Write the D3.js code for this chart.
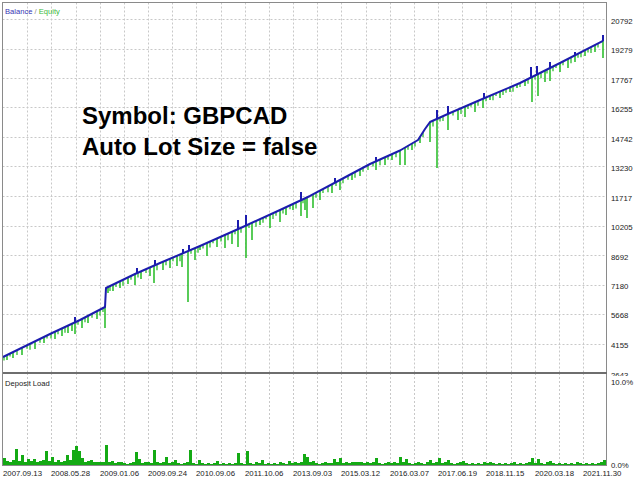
<!DOCTYPE html>
<html><head><meta charset="utf-8">
<script src="https://cdn.jsdelivr.net/npm/d3@7"></script>
<style>body{margin:0;background:#fff}svg{display:block}text{font-family:"Liberation Sans",Arial,sans-serif}</style>
</head><body><svg id="c" width="640" height="480"></svg>
<script>
// ---- data (x axis = trade number) ----
const balanceTrades = [0,47,77,102,103,132,157,197,242,277,307,337,367,397,415,422,427,447,477,517,557,600];
const balanceValues = [3463,4643,5360,6027,7001,7719,8283,9154,10180,11000,11718,12538,13358,14050,14589,15153,15512,15973,16640,17511,18537,19665];

const equityDipTrades = [4,10,19,32,41,52,59,65,69,72,79,85,94,102,105,110,117,125,132,138,147,151,160,167,174,179,185,192,197,204,214,222,229,235,243,249,257,267,277,283,290,298,302,304,310,317,329,337,349,357,373,382,389,397,402,409,417,427,434,445,455,462,472,480,487,497,507,514,522,529,535,542,547,557,565,572,582,592,600];
const equityDipValues = [3310,3412,3566,3874,4181,4386,4540,4694,4796,4643,4950,5207,5412,4950,6745,6847,7001,7206,7155,7462,7616,7257,7924,8026,8129,8078,6283,8437,8949,8642,9103,9052,9257,9103,8539,9462,10231,10077,10385,10744,11000,10692,11000,10590,11103,11513,11872,12025,12538,12743,13051,13307,13563,13307,13307,14076,14435,14487,13153,15102,15614,15768,16024,16230,16640,16742,17050,17255,17358,16537,16845,17562,17614,18076,18280,18588,18896,19101,18793];

const equitySmallDipTrades = [1,7,14,24,27,37,44,48,55,62,75,82,89,97,100,107,113,120,128,135,143,154,163,170,177,188,195,200,207,210,218,225,232,238,246,253,260,263,270,273,280,287,293,300,313,320,325,333,340,345,352,360,365,370,377,385,393,405,412,420,430,437,440,450,458,465,468,475,483,490,493,500,503,510,517,525,532,538,544,550,553,560,568,575,578,585,588,595];
const equitySmallDipValues = [3288,3489,3564,3885,3841,4192,4418,4417,4634,4701,5112,5244,5481,5594,5774,6850,7048,7122,7420,7537,7768,7916,8164,8366,8369,8758,8810,9022,9082,9300,9383,9443,9752,9839,10074,10138,10351,10522,10536,10706,10822,11039,11083,11350,11632,11873,11909,12228,12370,12557,12648,12967,13053,13227,13289,13573,13708,14090,14250,14742,15281,15542,15562,15840,15918,16174,16290,16346,16571,16623,16839,16891,17006,17059,17311,17466,17695,17749,18004,18108,18285,18416,18525,18809,18837,19071,19050,19334];

const balancePeakTrades = [72,134,152,180,186,235,243,298,332,373,434,445,481,528,534,547,572,600];
const balancePeakValues = [5514,8026,8437,9000,9205,10487,10744,11923,12641,13717,16127,16332,16999,18332,18383,18588,19101,19973];

// deposit load %, one value every 3 trades from trade 0 to 600
const loadStep = 3;
const depositLoad = [
0.8,0.5,0.4,0.6,1.9,0.5,1.2,0.4,0.7,0.5,
0.7,0.4,0.5,0.6,1.6,0.5,0.9,0.4,0.6,0.4,
0.5,1.2,0.6,1.7,2.2,1.6,0.8,0.4,0.5,0.6,
0.3,0.4,0.3,0.4,2.3,0.3,0.5,0.2,0.3,0.4,
0.2,0.1,0.2,0.3,1.5,0.7,0.2,0.3,0.4,0.2,
1.7,0.3,0.2,0.3,0.9,0.2,0.3,0.6,0.2,0.1,
0.2,0.3,1.8,0.2,0.1,0.6,0.2,0.1,0.2,0.1,
0.2,0.5,0.1,0.2,0.1,0.2,0.1,0.2,1.4,0.2,
0.1,1.6,0.2,0.1,0.3,0.2,0.6,0.1,0.2,0.1,
0.2,0.1,0.3,0.2,0.1,0.5,0.2,0.3,0.2,0.4,
1.25,0.9,0.3,0.5,0.2,0.1,0.2,0.3,0.2,0.2,
0.7,0.3,0.8,0.2,0.3,0.2,0.3,0.4,0.3,0.4,
0.2,0.3,0.2,0.3,0.8,0.2,0.1,0.2,0.3,0.2,
0.3,0.2,0.9,0.3,0.7,0.2,0.1,0.2,0.3,0.2,
0.1,0.3,0.6,0.2,0.3,0.8,0.2,0.3,0.6,0.2,
0.1,0.2,0.3,0.5,0.2,0.1,0.2,0.1,0.2,0.1,
0.4,0.2,0.3,0.2,0.1,0.2,0.1,0.2,0.1,0.2,
0.3,0.1,0.2,0.1,0.2,0.3,0.8,0.2,0.7,0.2,
0.1,0.3,0.5,0.2,0.1,0.2,0.1,0.2,0.1,0.2,
0.1,0.4,0.2,0.1,0.2,0.1,0.2,0.1,0.2,0.3,
0.6];

const yTickValues = [2643,4155,5668,7180,8692,10205,11717,13230,14742,16255,17767,19279,20792];
const dateTrades = [0,48,97,145,193,242,290,338,387,435,483,532,580];
const dateLabels = ["2007.09.13","2008.05.28","2009.01.06","2009.09.24","2010.09.06","2011.10.06","2013.09.03","2015.03.12","2016.03.07","2017.06.19","2018.11.15","2020.03.18","2021.11.30"];
const loadTicks = [10,0];

// ---- layout ----
const svg = d3.select("#c");
const L = 2.5, R = 606.5, T = 2.5, MB = 373, DB = 465.5;
const x = d3.scaleLinear().domain([0,603]).range([3,606]);
const y = d3.scaleLinear().domain([2643,20792]).range([373,19]);
const yl = d3.scaleLinear().domain([0,10]).range([465,379]);
const balAt = d3.scaleLinear().domain(balanceTrades).range(balanceValues);

svg.append("rect").attr("width",640).attr("height",480).attr("fill","#fff");

// grid
const gridTrades = [];
dateTrades.forEach((t,i)=>{ gridTrades.push(t); if(i<dateTrades.length-1) gridTrades.push((t+dateTrades[i+1])/2); });
const grid = svg.append("g").attr("stroke","#c8c8c8").attr("stroke-dasharray","2,2").attr("stroke-width",1);
gridTrades.filter(t=>t>0).forEach(t=>{
  const gx = Math.round(x(t))+0.5;
  grid.append("line").attr("x1",gx).attr("x2",gx).attr("y1",T).attr("y2",MB);
  grid.append("line").attr("x1",gx).attr("x2",gx).attr("y1",MB).attr("y2",DB);
});
yTickValues.slice(1).forEach(v=>{
  const gy = Math.round(y(v))+0.5;
  grid.append("line").attr("x1",L).attr("x2",R).attr("y1",gy).attr("y2",gy);
});

// equity dips (small texture first, then large)
function dips(trades, values, w){
  svg.append("g").attr("stroke","#2fbf2f").attr("stroke-width",w)
    .selectAll("line").data(trades).join("line")
    .attr("x1",(t)=>x(t)).attr("x2",(t)=>x(t))
    .attr("y1",(t)=>y(balAt(t))).attr("y2",(t,i)=>y(values[i]));
}
dips(equitySmallDipTrades, equitySmallDipValues, 1.3);
dips(equityDipTrades, equityDipValues, 1.6);

// balance line
svg.append("path").datum(balanceTrades)
  .attr("fill","none").attr("stroke","#1c1cae").attr("stroke-width",2).attr("stroke-linejoin","round")
  .attr("d", d3.line().x(t=>x(t)).y((t,i)=>y(balanceValues[i])));

// balance peaks
svg.append("g").attr("stroke","#1c1cae").attr("stroke-width",2)
  .selectAll("line").data(balancePeakTrades).join("line")
  .attr("x1",(t)=>x(t)).attr("x2",(t)=>x(t))
  .attr("y1",(t)=>y(balAt(t))).attr("y2",(t,i)=>y(balancePeakValues[i]));

// deposit load bars
svg.append("g").attr("fill","#14aa14").attr("shape-rendering","crispEdges")
  .selectAll("rect").data(depositLoad).join("rect")
  .attr("x",(v,i)=>x(i*loadStep)).attr("width",(v,i)=>x(i*loadStep+loadStep)-x(i*loadStep))
  .attr("y",v=>yl(v)).attr("height",v=>yl(0)-yl(v));

// frames
const fr = svg.append("g").attr("fill","none").attr("shape-rendering","crispEdges");
fr.append("path").attr("d",`M${L},${MB}V${T}H${R}V${MB}`).attr("stroke","#8a8a8a");
fr.append("path").attr("d",`M${L},${MB}V${DB}H${R}V${MB}`).attr("stroke","#8a8a8a");
fr.append("line").attr("x1",L).attr("x2",R).attr("y1",MB).attr("y2",MB).attr("stroke","#6e6e6e").attr("stroke-width",2);

// right axis labels
const clip = svg.append("clipPath").attr("id","mc");
clip.append("rect").attr("x",R).attr("y",0).attr("width",40).attr("height",376);
svg.append("g").attr("clip-path","url(#mc)").selectAll("text").data(yTickValues).join("text")
  .attr("x",611).attr("y",v=>y(v)+4.5).attr("font-size",7.8).attr("fill","#222").text(v=>v);
svg.append("g").selectAll("text").data(loadTicks).join("text")
  .attr("x",611).attr("y",v=>yl(v)+(v===10?5.5:3)).attr("font-size",7.8).attr("fill","#222").text(v=>v.toFixed(1)+"%");

// date labels
svg.append("g").selectAll("text").data(dateTrades).join("text")
  .attr("x",t=>x(t)).attr("y",476).attr("font-size",7.8).attr("fill","#222")
  .text((t,i)=>dateLabels[i]);

// titles
const ti = svg.append("text").attr("x",5).attr("y",14).attr("font-size",7.6);
ti.append("tspan").attr("fill","#3434b4").text("Balance");
ti.append("tspan").attr("fill","#888").text(" / ");
ti.append("tspan").attr("fill","#3cb93c").text("Equity");
svg.append("text").attr("x",5).attr("y",386).attr("font-size",7.6).attr("fill","#222").text("Deposit Load");

// annotation
svg.append("text").attr("x",82).attr("y",124).attr("font-size",24).attr("font-weight","bold").attr("fill","#000").text("Symbol: GBPCAD");
svg.append("text").attr("x",82).attr("y",155).attr("font-size",24).attr("font-weight","bold").attr("fill","#000").text("Auto Lot Size = false");
</script></body></html>
